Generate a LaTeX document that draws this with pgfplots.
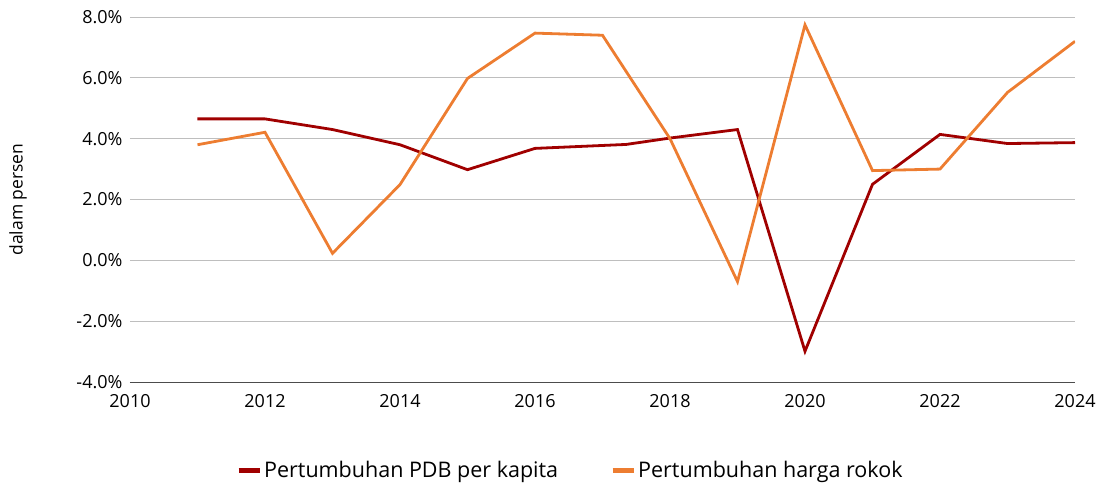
\documentclass[border=0pt]{standalone}
\usepackage{pgfplots}
\pgfplotsset{compat=1.18}
\usepackage{fontspec}
\setmainfont{Open Sans}
\definecolor{pdb}{RGB}{160,0,0}
\definecolor{rokok}{RGB}{237,125,49}
\definecolor{gridc}{RGB}{190,190,190}
\begin{document}
\begin{tikzpicture}
\path[use as bounding box] (-130pt,-105pt) rectangle (975pt,382pt);
\begin{axis}[
  scale only axis,
  width=945pt, height=365pt,
  xmin=2010, xmax=2024, ymin=-4, ymax=8,
  xtick={2010,2012,...,2024},
  ytick={-4,-2,...,8},
  axis x line*=bottom, axis y line*=left,
  y axis line style={draw=none},
  x axis line style={draw=black!70, line width=1pt},
  major tick length=0pt,
  ymajorgrids,
  grid style={gridc, line width=0.9pt},
  /pgf/number format/assume math mode=true,
  xticklabel style={/pgf/number format/1000 sep={}, font=\fontsize{18}{21}\selectfont, yshift=-9pt},
  yticklabel style={/pgf/number format/fixed, /pgf/number format/fixed zerofill, /pgf/number format/precision=1, font=\fontsize{18}{21}\selectfont, xshift=-4pt},
  yticklabel={\pgfmathprintnumber{\tick}\%},
  ylabel={dalam persen},
  ylabel style={font=\fontsize{17.5}{20}\selectfont, at={(axis description cs:0,0.5)}, anchor=center, yshift=112pt},
  legend style={at={(rel axis cs:0.466,0)}, yshift=-88pt, anchor=center, draw=none, fill=none,
    legend columns=2, font=\fontsize{21.5}{24}\selectfont,
    /tikz/every even column/.append style={column sep=50pt}},
  legend image code/.code={\draw[line width=5pt] (0pt,0pt) -- (21pt,0pt);},
]
\addplot[pdb, line width=2.8pt] coordinates {
(2011,4.65) (2012,4.65) (2013,4.30) (2014,3.80) (2015,2.98) (2016,3.68) (2017.35,3.81) (2018,4.02) (2019,4.30) (2020,-2.99) (2021,2.50) (2022,4.14) (2023,3.84) (2024,3.87)};
\addlegendentry{Pertumbuhan PDB per kapita}
\addplot[rokok, line width=2.8pt] coordinates {
(2011,3.80) (2012,4.21) (2013,0.23) (2014,2.49) (2015,5.98) (2016,7.47) (2017,7.40) (2018,4.00) (2019,-0.70) (2020,7.74) (2021,2.95) (2022,3.00) (2023,5.52) (2024,7.20)};
\addlegendentry{Pertumbuhan harga rokok}
\end{axis}
\end{tikzpicture}
\end{document}
